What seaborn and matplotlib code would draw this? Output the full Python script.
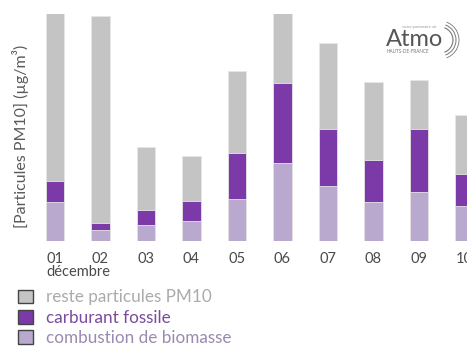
import matplotlib
matplotlib.use("Agg")
import matplotlib.pyplot as plt
from matplotlib.patches import Patch, Arc
import numpy as np
import pandas as pd
import seaborn as sns

# Daily PM10 source apportionment, µg/m³
days = ["01", "02", "03", "04", "05", "06", "07", "08", "09", "10"]
biomasse = [9.8, 2.8, 4.0, 5.0, 10.5, 19.5, 13.8, 9.8, 12.3, 8.8]
fossile = [5.2, 1.7, 3.8, 5.0, 11.4, 20.0, 14.3, 10.5, 15.7, 7.9]
reste = [52.0, 51.8, 15.7, 11.3, 20.7, 25.0, 21.4, 19.4, 12.2, 14.7]

labels = ["reste particules PM10", "carburant fossile", "combustion de biomasse"]
colors = ["#c4c4c4", "#7b3aa7", "#b9a9ce"]
text_colors = ["#ababab", "#7a4a9e", "#9a8ab0"]

sns.set_theme(style="white")
plt.rcParams["font.family"] = ["Lato", "DejaVu Sans"]

df = pd.DataFrame({"jour": days, "biomasse": biomasse,
                   "fossile": fossile, "reste": reste})
df["cum_bio"] = df["biomasse"]
df["cum_fos"] = df["biomasse"] + df["fossile"]
df["cum_tot"] = df["cum_fos"] + df["reste"]

W, H = 467, 347
fig = plt.figure(figsize=(W / 100, H / 100), dpi=100)
ax = fig.add_axes([30 / W, (H - 241) / H, (W - 30) / W, 227 / H])

# stacked bars: draw cumulative totals from the top layer down
for col, c in zip(["cum_tot", "cum_fos", "cum_bio"], colors):
    sns.barplot(data=df, x="jour", y=col, color=c, width=0.41, ax=ax,
                saturation=1, edgecolor="#e6e6e6", linewidth=0.6)

ax.set_ylim(0, 56.75)
ax.set_xlim(-0.549, 9.055)
ax.set_xlabel("")
ax.set_ylabel("")
ax.set_yticks([])
sns.despine(ax=ax, left=True, bottom=True)
ax.tick_params(axis="x", length=0, pad=8, labelsize=10.5, labelcolor="#4a4a4a")
ax.text(-0.18, -0.107, "décembre", transform=ax.get_xaxis_transform(),
        ha="left", va="top", fontsize=10.5, color="#4a4a4a")

fig.text(21 / W, 1 - 136 / H, "[Particules PM10] (µg/m³)", rotation=90,
         ha="center", va="center", fontsize=11.5, color="#5a5a5a")

handles = [Patch(facecolor=c, edgecolor="#444444", linewidth=1.0) for c in colors]
leg = fig.legend(handles, labels, loc="upper left",
                 bbox_to_anchor=(15 / W, 1 - 286 / H), frameon=False,
                 fontsize=12.3, handlelength=0.88, handleheight=0.88,
                 handletextpad=0.75, labelspacing=0.24, borderaxespad=0,
                 borderpad=0.2)
for t, tc in zip(leg.get_texts(), text_colors):
    t.set_color(tc)

# brand logo, drawn in pixel coordinates
lax = fig.add_axes([370 / W, 1 - 70 / H, 97 / W, 60 / H])
lax.set_xlim(370, 467)
lax.set_ylim(70, 10)
lax.set_axis_off()
lax.text(386, 46, "Atmo", fontsize=17, color="#555555", ha="left",
         va="baseline")
lax.text(436, 28, "votre partenaire air", fontsize=3, color="#999999",
         ha="right", va="baseline")
lax.text(387, 53, "HAUTS-DE-FRANCE", fontsize=3.3, color="#777777",
         ha="left", va="baseline")
for r, lw in [(13, 0.8), (16, 0.7), (19, 0.6)]:
    lax.add_patch(Arc((440, 40), 2 * r, 2 * r, theta1=-70, theta2=70,
                      color="#777777", linewidth=lw))

fig.savefig("out.png", dpi=100)
